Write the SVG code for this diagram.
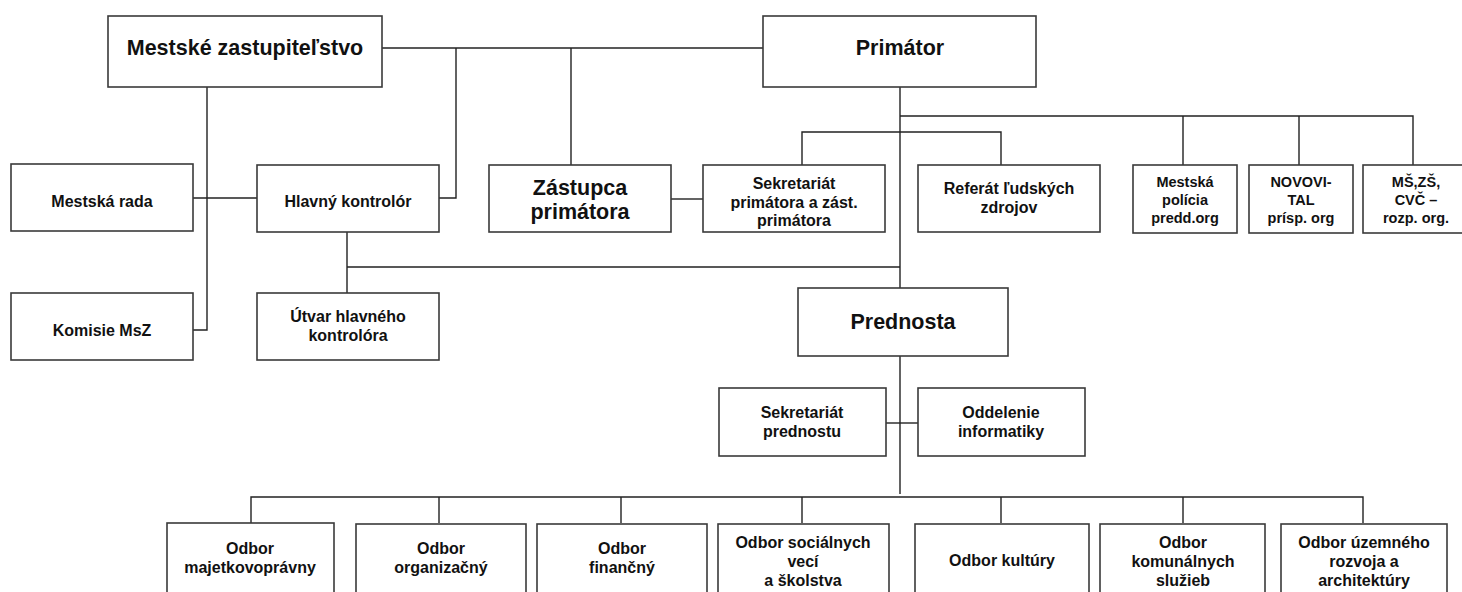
<svg xmlns="http://www.w3.org/2000/svg" width="1462" height="592" viewBox="0 0 1462 592">
<style>
.box{fill:#fff;stroke:#3a3a3a;stroke-width:1.6}
.ln{fill:none;stroke:#222;stroke-width:1.4}
text{font-family:"Liberation Sans",Arial,sans-serif;font-weight:bold;fill:#111;text-anchor:middle}
.big{font-size:21.5px}
.med{font-size:16px}
.sm{font-size:14.5px}
</style>
<rect width="1462" height="592" fill="#fff"/>
<g id="connectors">
<path class="ln" d="M382 48H763"/>
<path class="ln" d="M456 48V198H439"/>
<path class="ln" d="M207 87V330H193"/>
<path class="ln" d="M193 198H257"/>
<path class="ln" d="M571 48V165"/>
<path class="ln" d="M671 199H703"/>
<path class="ln" d="M900 87V288"/>
<path class="ln" d="M900 116H1413V165M1183 116V165M1299 116V165"/>
<path class="ln" d="M802 165V132H1001V165"/>
<path class="ln" d="M347 232V293M347 267H900"/>
<path class="ln" d="M900 356V494"/>
<path class="ln" d="M886 423H918"/>
<path class="ln" d="M251 523V497H1363V523M439 497V523M621 497V523M802 497V523M1001 497V523M1183 497V523"/>
</g>
<g id="mestske-zastupitelstvo"><rect class="box" x="108" y="16" width="274" height="71"/><text class="big" x="245" y="55">Mestské zastupiteľstvo</text></g>
<g id="primator"><rect class="box" x="763" y="16" width="273" height="71"/><text class="big" x="900" y="55">Primátor</text></g>
<g id="mestska-rada"><rect class="box" x="11" y="164" width="182" height="67"/><text class="med" x="102" y="207">Mestská rada</text></g>
<g id="hlavny-kontrolor"><rect class="box" x="257" y="165" width="182" height="67"/><text class="med" x="348" y="207">Hlavný kontrolór</text></g>
<g id="zastupca-primatora"><rect class="box" x="489" y="165" width="182" height="67"/><text class="big" x="580" y="195">Zástupca</text><text class="big" x="580" y="219">primátora</text></g>
<g id="sekretariat-primatora"><rect class="box" x="703" y="165" width="182" height="67"/><text class="med" x="794" y="189">Sekretariát</text><text class="med" x="794" y="207.5">primátora a zást.</text><text class="med" x="794" y="226">primátora</text></g>
<g id="referat-ludskych-zdrojov"><rect class="box" x="918" y="165" width="182" height="67"/><text class="med" x="1009" y="194">Referát ľudských</text><text class="med" x="1009" y="213">zdrojov</text></g>
<g id="mestska-policia"><rect class="box" x="1133" y="165" width="104" height="68"/><text class="sm" x="1185" y="187">Mestská</text><text class="sm" x="1185" y="205">polícia</text><text class="sm" x="1185" y="223">predd.org</text></g>
<g id="novovital"><rect class="box" x="1249" y="165" width="104" height="68"/><text class="sm" x="1301" y="187">NOVOVI-</text><text class="sm" x="1301" y="205">TAL</text><text class="sm" x="1301" y="223">prísp. org</text></g>
<g id="ms-zs-cvc"><rect class="box" x="1363" y="165" width="105" height="68"/><text class="sm" x="1416" y="187">MŠ,ZŠ,</text><text class="sm" x="1416" y="205">CVČ –</text><text class="sm" x="1416" y="223">rozp. org.</text></g>
<g id="komisie-msz"><rect class="box" x="11" y="293" width="182" height="67"/><text class="med" x="102" y="336">Komisie MsZ</text></g>
<g id="utvar-hlavneho-kontrolora"><rect class="box" x="257" y="293" width="182" height="67"/><text class="med" x="348" y="322">Útvar hlavného</text><text class="med" x="348" y="341">kontrolóra</text></g>
<g id="prednosta"><rect class="box" x="798" y="288" width="210" height="68"/><text class="big" x="903" y="329">Prednosta</text></g>
<g id="sekretariat-prednostu"><rect class="box" x="719" y="388" width="167" height="68"/><text class="med" x="802" y="418">Sekretariát</text><text class="med" x="802" y="437">prednostu</text></g>
<g id="oddelenie-informatiky"><rect class="box" x="918" y="388" width="167" height="68"/><text class="med" x="1001" y="418">Oddelenie</text><text class="med" x="1001" y="437">informatiky</text></g>
<g id="odbor-majetkovopravny"><rect class="box" x="167" y="523" width="167" height="80"/><text class="med" x="250" y="554">Odbor</text><text class="med" x="250" y="573">majetkovoprávny</text></g>
<g id="odbor-organizacny"><rect class="box" x="356" y="524" width="170" height="80"/><text class="med" x="441" y="554">Odbor</text><text class="med" x="441" y="573">organizačný</text></g>
<g id="odbor-financny"><rect class="box" x="537" y="524" width="170" height="80"/><text class="med" x="622" y="554">Odbor</text><text class="med" x="622" y="573">finančný</text></g>
<g id="odbor-socialnych-veci"><rect class="box" x="718" y="524" width="171" height="80"/><text class="med" x="803" y="548">Odbor sociálnych</text><text class="med" x="803" y="567">vecí</text><text class="med" x="803" y="586">a školstva</text></g>
<g id="odbor-kultury"><rect class="box" x="915" y="524" width="174" height="80"/><text class="med" x="1002" y="566">Odbor kultúry</text></g>
<g id="odbor-komunalnych-sluzieb"><rect class="box" x="1100" y="524" width="165" height="80"/><text class="med" x="1183" y="548">Odbor</text><text class="med" x="1183" y="567">komunálnych</text><text class="med" x="1183" y="586">služieb</text></g>
<g id="odbor-uzemneho-rozvoja"><rect class="box" x="1281" y="524" width="166" height="80"/><text class="med" x="1364" y="548">Odbor územného</text><text class="med" x="1364" y="567">rozvoja a</text><text class="med" x="1364" y="586">architektúry</text></g>
</svg>
